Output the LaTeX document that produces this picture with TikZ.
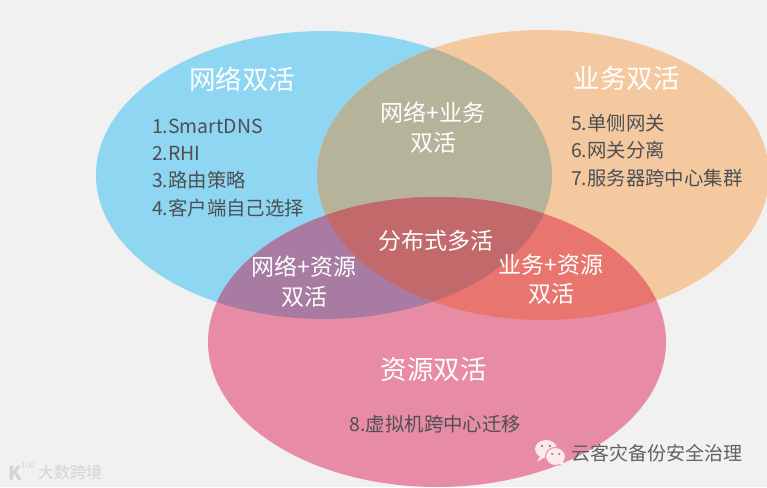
\documentclass[tikz,border=0pt]{standalone}
\usepackage{fontspec}
\setmainfont{Noto Sans CJK SC}
\definecolor{bgGray}{HTML}{F1F1F1}
\definecolor{netBlue}{HTML}{8FD6F2}
\definecolor{bizOrange}{HTML}{F5C9A0}
\definecolor{resPink}{HTML}{E88CA6}
\definecolor{netBiz}{HTML}{B5B49A}
\definecolor{netRes}{HTML}{A87BA2}
\definecolor{bizRes}{HTML}{E9756F}
\definecolor{allThree}{HTML}{C2696C}
\definecolor{listGray}{HTML}{4D4F52}
\definecolor{bubble}{HTML}{FBE9EE}
\begin{document}
\begin{tikzpicture}[
  x=1pt, y=-1pt,
  title/.style={font=\fontsize{26.5}{30}\selectfont, text=white, inner sep=0pt},
  overlap/.style={font=\fontsize{23}{29.5}\selectfont, text=white, align=center, inner sep=0pt},
  itemlist/.style={font=\fontsize{19.4}{27.4}\selectfont, text=listGray, align=left, inner sep=0pt},
  faint/.style={text=black!17, inner sep=0pt}
]
\useasboundingbox (0,0) rectangle (767,487);
\fill[bgGray] (0,0) rectangle (767,487);

\def\netshape{(324,175) ellipse [x radius=228, y radius=144]}
\def\bizshape{(543,175) ellipse [x radius=226, y radius=145]}
\def\resshape{(437,342) ellipse [x radius=229, y radius=145]}

% circles
\fill[netBlue] \netshape;
\fill[bizOrange] \bizshape;
\fill[resPink] \resshape;

% overlaps
\begin{scope}
  \clip \netshape;
  \fill[netBiz] \bizshape;
  \fill[netRes] \resshape;
\end{scope}
\begin{scope}
  \clip \bizshape;
  \begin{scope}
    \clip \resshape;
    \fill[bizRes] (0,0) rectangle (767,487);
    \clip \netshape;
    \fill[allThree] (0,0) rectangle (767,487);
  \end{scope}
\end{scope}

% titles
\node[title] (net) at (242,79) {网络双活};
\node[title] (biz) at (626.5,78) {业务双活};
\node[title] (res) at (433.5,370) {资源双活};

% overlap labels
\node[overlap] (netbiz) at (433,127.5) {网络+业务\\双活};
\node[overlap] (netres) at (304,281.5) {网络+资源\\双活};
\node[overlap] (bizres) at (551,279.5) {业务+资源\\双活};
\node[overlap] (all) at (436,241) {分布式多活};

% lists
\node[itemlist, anchor=north west] (netlist) at (152,118.5) {1.SmartDNS\\2.RHI\\3.路由策略\\4.客户端自己选择};
\node[itemlist, anchor=north west] (bizlist) at (571,114) {5.单侧网关\\6.网关分离\\7.服务器跨中心集群};
\node[itemlist] (reslist) at (435.5,424) {8.虚拟机跨中心迁移};

% wechat mark
\fill[bubble] (546,449) ellipse [x radius=11, y radius=9];
\fill[bubble] (540,456) -- (537,462) -- (545,457) -- cycle;
\filldraw[fill=bubble, draw=resPink, line width=1pt] (555.5,456.5) ellipse [x radius=10, y radius=9];
\fill[bubble] (559,463) -- (564,467) -- (563,460) -- cycle;
\fill[resPink!65!black] (542,446) circle (1.1) (550,446) circle (1.1) (552,454) circle (1) (559,454) circle (1);

% watermarks
\node[font=\fontsize{19}{22}\selectfont, text=black!62, inner sep=0pt] (wm) at (657,453) {云客灾备份安全治理};
\node[faint, font=\fontsize{16}{20}\selectfont] (brand) at (70,472) {大数跨境};
\node[faint, font=\bfseries\fontsize{19}{20}\selectfont] (logo) at (15,473) {K};
\node[faint, font=\fontsize{8}{9}\selectfont] (logonum) at (28,466) {100};
\end{tikzpicture}
\end{document}
